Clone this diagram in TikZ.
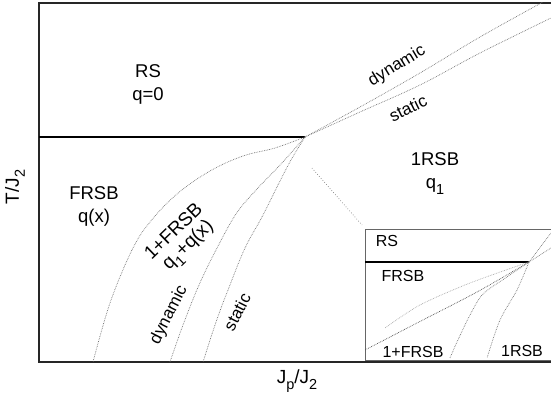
\documentclass[tikz,border=0pt]{standalone}
\usepackage{fontspec}
\setmainfont{Liberation Sans}
\newcommand\lowsub[1]{\raisebox{-0.32em}{\fontsize{14.5}{15}\selectfont #1}}
\begin{document}
\begin{tikzpicture}[x=1pt,y=-1pt,
  lbl/.style={font=\fontsize{18.5}{23}\selectfont, align=center, inner sep=0pt},
  rlbl/.style={font=\fontsize{17}{19}\selectfont, inner sep=0pt},
  blbl/.style={font=\fontsize{19}{21}\selectfont, inner sep=0pt},
  ilbl/.style={font=\fontsize{16}{18}\selectfont, inner sep=0pt},
  axlbl/.style={font=\fontsize{19}{21}\selectfont, inner sep=0pt},
  frame/.style={line width=1.3pt, draw=black!85},
  sepline/.style={line width=1.1pt, draw=black},
  bound/.style={line width=0.7pt, draw=black!55, densely dotted},
  insetframe/.style={line width=1pt, draw=black!60},
  pointer/.style={line width=0.7pt, draw=black!50, dotted},
]
\useasboundingbox (0,0) rectangle (551,401);
% main frame
\draw[frame] (551,3) -- (39,3) -- (39,362) -- (551,362);
\coordinate (J) at (305,137);
\draw[sepline] (39,137) -- (J);
% boundaries
\draw[bound] plot[smooth, tension=0.6] coordinates {(305,137) (275,148) (243,156) (210,171) (177,194) (150,222) (132,250) (110,303) (93,362)};
\draw[bound] plot[smooth, tension=0.6] coordinates {(305,137) (281,164) (257,189) (236,214) (216,250) (199,285) (183,325) (170,362)};
\draw[bound] plot[smooth, tension=0.6] coordinates {(305,137) (291,160) (278,185) (262,217) (245,248) (228,290) (216,322) (203,362)};
\draw[bound] plot[smooth, tension=0.6] coordinates {(305,137) (360,107) (420,73) (480,37) (543,2)};
\draw[bound] plot[smooth, tension=0.6] coordinates {(305,137) (360,112) (420,85) (480,53) (551,18)};
% pointer to inset
\coordinate (P1) at (312,168);
\coordinate (P2) at (362,225);
\draw[pointer] (P1) -- (P2);
% labels
\node[lbl] (rs) at (148,84) {RS\\q=0};
\node[lbl] (frsb) at (94,206) {FRSB\\q(x)};
\node[lbl] (orsb) at (435,174) {1RSB\\q\lowsub{1}};
\node[blbl, rotate=44] (ofrsb) at (173,231) {1+FRSB};
\node[blbl, rotate=44] (qq) at (189,246) {q\lowsub{1}+q(x)};
\node[rlbl, rotate=63] (dynl) at (169,315) {dynamic};
\node[rlbl, rotate=63] (stal) at (237,312) {static};
\node[rlbl, rotate=31] (dynu) at (397,66) {dynamic};
\node[rlbl, rotate=26] (stau) at (408,108) {static};
% axes labels
\node[axlbl, rotate=90] (ylab) at (15,187) {T/J\lowsub{2}};
\node[axlbl] (xlab) at (297,381) {J\lowsub{p}/J\lowsub{2}};
% inset
\draw[insetframe] (551,229) -- (365,229) -- (365,360) -- (551,360);
\coordinate (IJ) at (529,262);
\draw[sepline] (365,262) -- (IJ);
\draw[bound, draw=black!70] plot[smooth, tension=0.5] coordinates {(529,262) (477,292) (417,323) (365,350)};
\draw[bound, draw=black!35] plot[smooth, tension=0.5] coordinates {(529,262) (470,283) (420,305) (385,328)};
\draw[bound] plot[smooth, tension=0.5] coordinates {(529,262) (507,277) (483,294) (470,315) (457,342) (450,358)};
\draw[bound] plot[smooth, tension=0.5] coordinates {(529,262) (517,290) (500,320) (487,358)};
\draw[bound] (IJ) -- (551,233);
\draw[bound] (IJ) -- (551,248);
\node[ilbl] (irs) at (387,241) {RS};
\node[ilbl] (ifrsb) at (403,276) {FRSB};
\node[ilbl] (iofrsb) at (413,352) {1+FRSB};
\node[ilbl] (iorsb) at (522,351) {1RSB};
\end{tikzpicture}
\end{document}
